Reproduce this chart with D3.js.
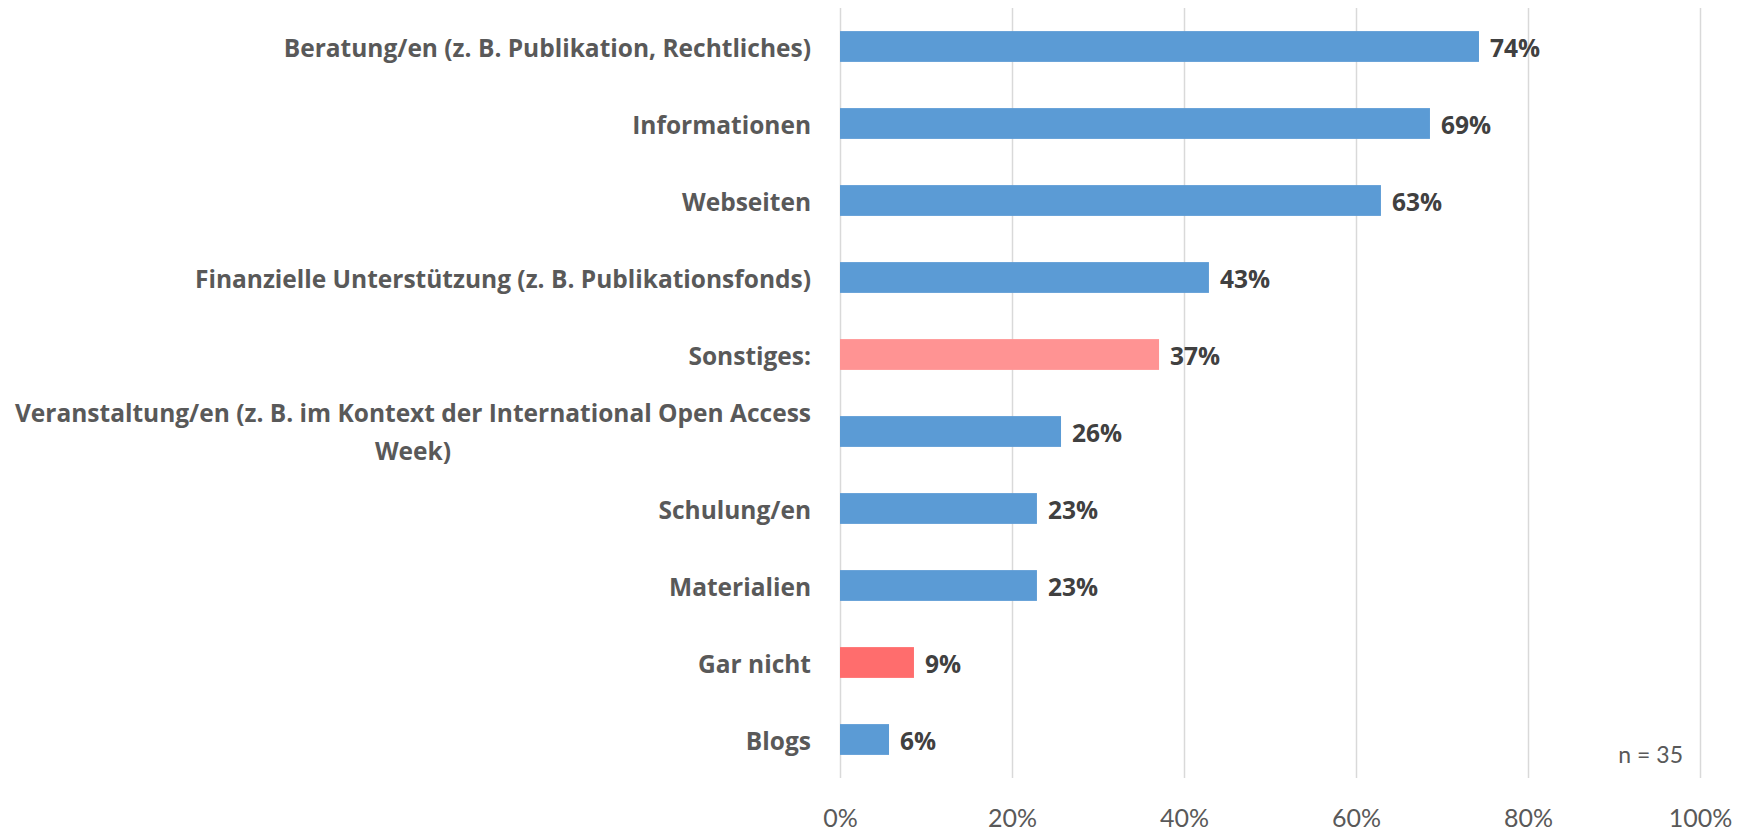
<!DOCTYPE html>
<html><head><meta charset="utf-8">
<script src="https://cdn.jsdelivr.net/npm/d3@7"></script>
<style>body{margin:0;background:#fff;} svg{display:block;}</style>
</head><body><svg id="c" width="1742" height="835"></svg>
<script>
const categories = [
  "Beratung/en (z. B. Publikation, Rechtliches)",
  "Informationen",
  "Webseiten",
  "Finanzielle Unterstützung (z. B. Publikationsfonds)",
  "Sonstiges:",
  "Veranstaltung/en (z. B. im Kontext der International Open Access Week)",
  "Schulung/en",
  "Materialien",
  "Gar nicht",
  "Blogs"
];
const values = [74.3, 68.6, 62.9, 42.9, 37.1, 25.7, 22.9, 22.9, 8.6, 5.7];
const barColors = ["#5B9BD5","#5B9BD5","#5B9BD5","#5B9BD5","#FF9393","#5B9BD5","#5B9BD5","#5B9BD5","#FF6D6D","#5B9BD5"];
const xTicks = [0, 20, 40, 60, 80, 100];
const note = "n = 35";

(function(){
const svg = d3.select("#c");
const pLeft = 840, pRight = 1700, pTop = 8, pBottom = 778;
const x = d3.scaleLinear().domain([0,100]).range([pLeft,pRight]);
const y = d3.scaleBand().domain(categories).range([pTop,pBottom]).paddingInner(0.6).paddingOuter(0.3);

// gridlines + tick labels
const gx = svg.append("g").attr("transform",`translate(0,${pBottom})`)
  .call(d3.axisBottom(x).tickValues(xTicks).tickSize(-(pBottom-pTop)).tickFormat(d=>d+"%"));
gx.select(".domain").remove();
gx.selectAll(".tick line").attr("stroke","#D9D9D9").attr("stroke-width",1.5);
gx.selectAll(".tick text").attr("y",40).attr("dy","0.35em")
  .attr("font-family","Lato").attr("font-size",25).attr("fill","#595959");

// bars
svg.append("g").selectAll("rect").data(values).join("rect")
  .attr("x",x(0)).attr("y",(d,i)=>y(categories[i]))
  .attr("width",d=>x(d)-x(0)).attr("height",y.bandwidth())
  .attr("fill",(d,i)=>barColors[i]);

// value labels
svg.append("g").selectAll("text").data(values).join("text")
  .attr("x",d=>x(d)+11).attr("y",(d,i)=>y(categories[i])+y.bandwidth()/2)
  .attr("dy","0.44em").attr("font-family","Open Sans").attr("font-weight","bold")
  .attr("font-size",24.5).attr("fill","#404040").text(d=>Math.round(d)+"%");

// category labels (axis)
const gy = svg.append("g").attr("transform",`translate(${pLeft},0)`)
  .call(d3.axisLeft(y).tickSize(0).tickPadding(29));
gy.select(".domain").remove();
const maxW = 830;
gy.selectAll(".tick text").attr("font-family","Open Sans").attr("font-weight","bold")
  .attr("font-size",24.5).attr("fill","#595959").attr("dy","0.44em")
  .each(function(d){
    const t = d3.select(this);
    if (this.getComputedTextLength() <= maxW) return;
    const words = d.split(" ");
    const lines = []; let cur = [];
    t.text("");
    const probe = t.append("tspan");
    for (const w of words){
      cur.push(w); probe.text(cur.join(" "));
      if (probe.node().getComputedTextLength() > maxW && cur.length>1){
        cur.pop(); lines.push(cur.join(" ")); cur=[w];
      }
    }
    lines.push(cur.join(" "));
    probe.remove();
    let widest = 0;
    lines.forEach(l=>{ const p=t.append("tspan").text(l); widest=Math.max(widest,p.node().getComputedTextLength()); p.remove(); });
    const cx = -29 - widest/2;
    t.attr("text-anchor","middle").attr("x",cx).attr("dy",null);
    const lh = 38;
    lines.forEach((l,i)=>{
      t.append("tspan").attr("x",cx).attr("y",(i-(lines.length-1)/2)*lh).attr("dy","0.38em").text(l);
    });
  });

// note
svg.append("text").attr("x",1683).attr("y",755).attr("dy","0.35em").attr("text-anchor","end")
  .attr("font-family","Lato").attr("font-size",23).attr("fill","#595959").text(note);
})();
</script></body></html>
